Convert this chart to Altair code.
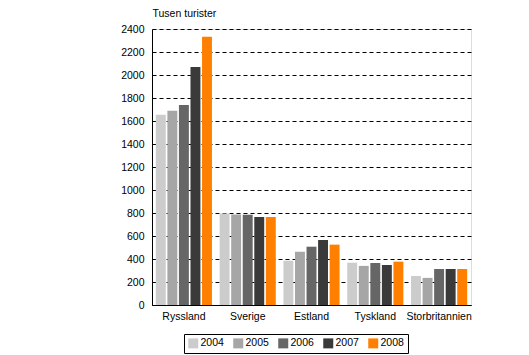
import altair as alt
import pandas as pd

countries = ["Ryssland", "Sverige", "Estland", "Tyskland", "Storbritannien"]
years = ["2004", "2005", "2006", "2007", "2008"]
v2004 = [1655, 795, 385, 368, 252]
v2005 = [1690, 787, 463, 340, 236]
v2006 = [1740, 785, 507, 365, 313]
v2007 = [2070, 765, 565, 348, 313]
v2008 = [2333, 765, 525, 377, 313]
colors = ["#cccccc", "#a6a6a6", "#666666", "#3a3a3a", "#ff8000"]

rows = []
for yr, vals in zip(years, [v2004, v2005, v2006, v2007, v2008]):
    for c, v in zip(countries, vals):
        rows.append({"Land": c, "År": yr, "Värde": v})
df = pd.DataFrame(rows)

FONT = "Liberation Sans"
FS = 10.5

chart = alt.Chart(df).mark_bar().encode(
    x=alt.X("Land:N", sort=countries,
            scale=alt.Scale(paddingInner=0.12, paddingOuter=0.06),
            axis=alt.Axis(title=None, labelAngle=0, ticks=False, labelPadding=6,
                          domainColor="black", labelColor="black",
                          labelFont=FONT, labelFontSize=FS)),
    xOffset=alt.XOffset("År:N", sort=years, scale=alt.Scale(paddingInner=0.14)),
    y=alt.Y("Värde:Q", scale=alt.Scale(domain=[0, 2400], nice=False),
            axis=alt.Axis(values=list(range(0, 2401, 200)), format="d",
                          title="Tusen turister",
                          titleAngle=0, titleAlign="left", titleX=0, titleY=-13,
                          titleBaseline="alphabetic", titleFontWeight="normal",
                          titleFont=FONT, titleFontSize=FS, titleColor="black",
                          ticks=False, labelPadding=8, labelFont=FONT,
                          labelFontSize=FS, labelColor="black",
                          domainColor="black", grid=True, gridColor="black",
                          gridDash=[4, 3], gridWidth=1)),
    color=alt.Color("År:N", sort=years,
                    scale=alt.Scale(domain=years, range=colors),
                    legend=alt.Legend(title=None, orient="none", direction="horizontal",
                                      legendX=32, legendY=305,
                                      symbolType="square", symbolSize=100,
                                      symbolStrokeWidth=0, labelOffset=2,
                                      columnPadding=9, padding=4,
                                      strokeColor="black", labelFont=FONT,
                                      labelFontSize=FS, labelColor="black")),
).properties(
    width=319, height=276,
    autosize=alt.AutoSizeParams(type="none"),
    padding={"left": 152, "top": 29, "right": 58, "bottom": 50},
).configure_view(stroke="black", strokeWidth=1).configure(background="white")

chart.save("out.html", embed_options={"renderer": "svg", "actions": False})
